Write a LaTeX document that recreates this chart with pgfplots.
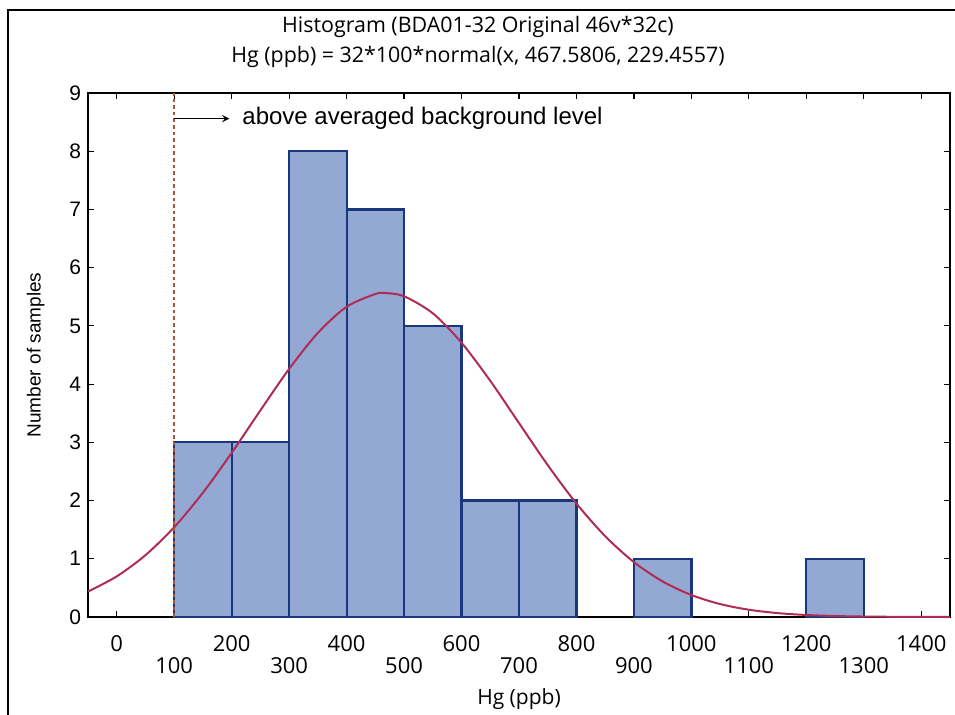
\documentclass[border=0pt]{standalone}
\usepackage{pgfplots}
\pgfplotsset{compat=1.18}
\usepackage{fontspec}
\setmainfont{Liberation Sans}
\newfontfamily\humfont{Open Sans}
\usetikzlibrary{calc}

\definecolor{barfill}{RGB}{148,168,212}
\definecolor{baredge}{RGB}{25,55,125}
\definecolor{curvecol}{RGB}{175,45,85}
\definecolor{bgline}{RGB}{175,85,55}

\begin{document}
\begin{tikzpicture}
\begin{axis}[
    name=ax,
    scale only axis,
    width=431pt,
    height=262pt,
    xmin=-50, xmax=1450,
    ymin=0, ymax=9,
    xtick={0,200,...,1400},
    extra x ticks={100,300,...,1300},
    extra x tick style={tick label style={yshift=-11pt}},
    ytick={0,1,...,9},
    x tick label style={font=\humfont\fontsize{11}{13}\selectfont, yshift=-5.5pt},
    y tick label style={font=\fontsize{10.5}{12}\selectfont},
    /pgf/number format/assume math mode=true,
    /pgf/number format/1000 sep={},
    xlabel={Hg (ppb)},
    xlabel style={font=\humfont\fontsize{10.5}{12}\selectfont, at={(0.5,0)}, anchor=north, yshift=-32pt},
    ylabel={Number of samples},
    ylabel style={font=\fontsize{9.5}{11}\selectfont, yshift=5.5pt},
    title={Histogram (BDA01-32 Original 46v*32c)\\Hg (ppb) = 32*100*normal(x, 467.5806, 229.4557)},
    title style={font=\humfont\fontsize{10.7}{15}\selectfont, align=center, at={(0.4524,1)}, anchor=south, yshift=3pt},
    major tick length=3pt,
    axis line style={line width=0.8pt},
    tick style={line width=0.6pt, black},
    clip=false,
]
% histogram bins (width 100), empty bins omitted
\addplot[ybar, bar width=100, bar shift=0pt, fill=barfill, draw=baredge, line width=1.1pt]
coordinates {
(150,3)
(250,3)
(350,8)
(450,7)
(550,5)
(650,2)
(750,2)
(950,1)
(1250,1)
};
% fitted normal curve
\addplot[smooth, curvecol, line width=1pt] coordinates {
(-50,0.4370)
(0,0.6976)
(50,1.0621)
(100,1.5418)
(150,2.1347)
(200,2.8188)
(250,3.5490)
(300,4.2614)
(350,4.8791)
(400,5.3275)
(450,5.5473)
(467.58,5.5636)
(500,5.5084)
(550,5.2160)
(600,4.7102)
(650,4.0562)
(700,3.3308)
(750,2.6085)
(800,1.9480)
(850,1.3873)
(900,0.9421)
(950,0.6102)
(1000,0.3770)
(1050,0.2220)
(1100,0.1247)
(1150,0.0668)
(1200,0.0341)
(1250,0.0166)
(1300,0.0077)
(1350,0.0034)
(1400,0.0014)
(1450,0.0006)
};
% background level
\addplot[bgline, line width=0.8pt, dash pattern=on 1.8pt off 1.5pt] coordinates {(100,0) (100,9)};
\draw[-stealth, line width=0.6pt] (axis cs:100,8.56) -- (axis cs:196,8.56);
\node[anchor=west, inner sep=0pt, font=\fontsize{12}{14}\selectfont] at (axis cs:218,8.56) {above averaged background level};
\end{axis}
\pgfresetboundingbox
\path[use as bounding box] ($(ax.south west)+(-44pt,-49pt)$) rectangle ($(ax.south west)+(433.5pt,308.5pt)$);
\draw[line width=0.7pt] ($(ax.south west)+(-40pt,-49pt)$) -- ($(ax.south west)+(-40pt,303.5pt)$) -- ($(ax.south west)+(433.5pt,303.5pt)$);
\end{tikzpicture}
\end{document}
